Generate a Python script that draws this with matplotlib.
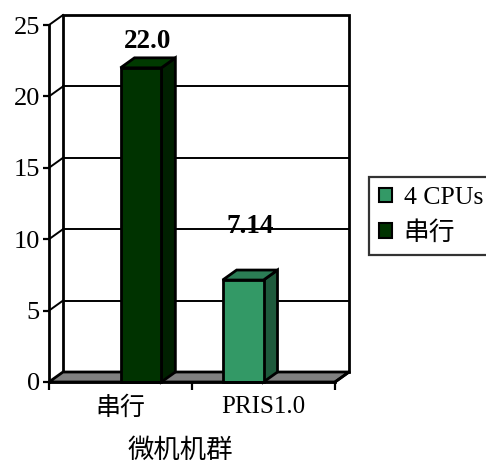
import numpy as np
import matplotlib
matplotlib.use("Agg")
import matplotlib.pyplot as plt
from matplotlib.patches import Polygon, Patch

# ---- data ----
categories = ["串行", "PRIS1.0"]
series_names = ["4 CPUs", "串行"]
cpu4_values = [np.nan, 7.14]
serial_values = [22.0, np.nan]
y_ticks = [0, 5, 10, 15, 20, 25]
x_title = "微机机群"

# ---- style ----
front_colors = ["#339966", "#003300"]
side_colors = ["#1e5a3c", "#002000"]
top_colors = ["#2b7d55", "#003a00"]
floor_color = "#808080"
label_lift_pt = [22, 3]          # vertical offset of each series' value label
serif = ["Liberation Serif", "Noto Sans CJK SC"]
cjk = ["Noto Sans CJK SC", "DejaVu Sans"]

W, H, DPI = 486, 468, 100
fig = plt.figure(figsize=(W / DPI, H / DPI), dpi=DPI)
ax = fig.add_axes([49 / W, (H - 382) / H, (335 - 49) / W, (382 - 25) / H])
ax.set_xlim(0, len(categories))
ax.set_ylim(0, 25)
ax.patch.set_visible(False)

# depth of the pseudo-3D box, in data units
DX = 14 / 143
DY = 10 / (357 / 25)
LW = 2.0
n = len(categories)

# back wall gridlines
for t in y_ticks[1:-1]:
    ax.plot([DX, n + DX], [t + DY, t + DY], color="black", lw=1.4,
            clip_on=False, zorder=1)
# left wall diagonals
for t in y_ticks[1:]:
    ax.plot([0, DX], [t, t + DY], color="black", lw=1.4, clip_on=False, zorder=1)
# back wall border
ax.plot([DX, DX, n + DX, n + DX], [DY, 25 + DY, 25 + DY, DY],
        color="black", lw=LW, clip_on=False, zorder=1,
        solid_joinstyle="miter")
# floor
ax.add_patch(Polygon([(0, 0), (n, 0), (n + DX, DY), (DX, DY)], closed=True,
                     facecolor=floor_color, edgecolor="black", lw=LW,
                     clip_on=False, zorder=2))

# bars (clustered, gap width 150%)
bw = 1 / 3.5
all_series = [cpu4_values, serial_values]
for s, vals in enumerate(all_series):
    for i, v in enumerate(vals):
        if np.isnan(v):
            continue
        x0 = i + 0.5 - bw + s * bw
        x1 = x0 + bw
        ax.bar(x0, v, width=bw, align="edge", color=front_colors[s],
               edgecolor="black", lw=LW, zorder=4, clip_on=False)
        ax.add_patch(Polygon([(x1, 0), (x1 + DX, DY), (x1 + DX, v + DY), (x1, v)],
                             closed=True, facecolor=side_colors[s],
                             edgecolor="black", lw=LW, zorder=3, clip_on=False))
        ax.add_patch(Polygon([(x0, v), (x1, v), (x1 + DX, v + DY), (x0 + DX, v + DY)],
                             closed=True, facecolor=top_colors[s],
                             edgecolor="black", lw=LW, zorder=3, clip_on=False))
        ax.annotate(f"{v:.2f}" if v < 10 else f"{v:.1f}",
                    xy=(x0 + bw / 2 + DX / 2, v + DY),
                    xytext=(0, label_lift_pt[s]), textcoords="offset points",
                    ha="center", va="bottom", fontsize=19.5, fontweight="bold",
                    family=serif, zorder=6)

# front axes
for side in ["top", "right"]:
    ax.spines[side].set_visible(False)
for side in ["left", "bottom"]:
    ax.spines[side].set_linewidth(LW)
    ax.spines[side].set_zorder(5)
ax.plot([n, n + DX], [0, DY], color="black", lw=LW, clip_on=False, zorder=5)

ax.set_yticks(y_ticks)
ax.set_yticklabels([str(t) for t in y_ticks], family=serif, fontsize=19)
ax.tick_params(axis="y", direction="out", length=4, width=1.6, pad=2.5)

ax.set_xticks(np.arange(n + 1))
ax.set_xticklabels([])
ax.set_xticks(np.arange(n) + 0.5, minor=True)
ax.set_xticklabels(categories, minor=True, family=serif, fontsize=18)
ax.tick_params(axis="x", which="major", direction="out", length=6, width=1.6)
ax.tick_params(axis="x", which="minor", length=0, pad=10)

ax.set_xlabel(x_title, family=cjk, fontsize=19)
ax.xaxis.set_label_coords(0.46, -0.155)

handles = [Patch(facecolor=front_colors[k], edgecolor="black", lw=1.5)
           for k in range(len(series_names))]
leg = fig.legend(handles, series_names, loc="upper left",
                 bbox_to_anchor=(369 / W, 1 - 177 / H), borderaxespad=0,
                 prop={"family": serif, "size": 18.5}, frameon=True,
                 fancybox=False, shadow=False, handlelength=0.5,
                 handleheight=0.5, handletextpad=0.45, labelspacing=0.45,
                 borderpad=0.4)
leg.get_frame().set_edgecolor("black")
leg.get_frame().set_linewidth(1.6)

fig.savefig("out.png", dpi=DPI, facecolor="white")
